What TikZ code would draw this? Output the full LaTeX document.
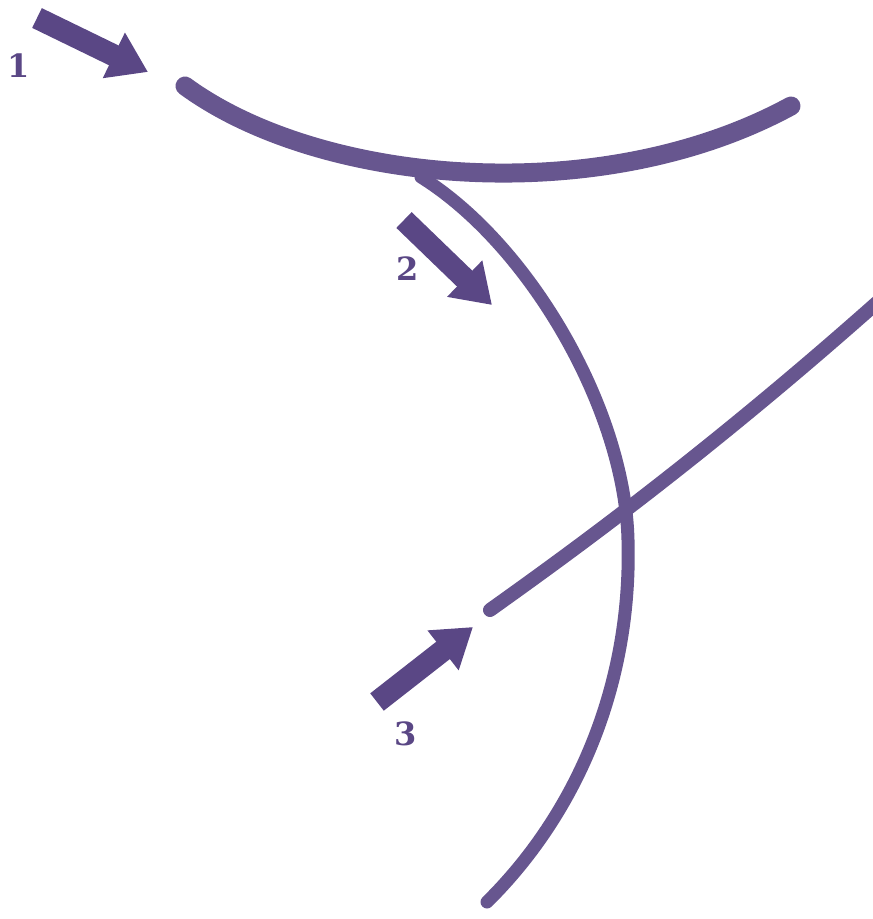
\documentclass[tikz,border=0pt]{standalone}
\usepackage{fontspec}
\newfontfamily\lblfont{DejaVu Serif}
\usetikzlibrary{arrows.meta}
\definecolor{stroke}{HTML}{67568F}
\definecolor{arrowc}{HTML}{5A4785}
\tikzset{
  pen/.style={draw=stroke, line cap=round, line join=round},
  fatarrow/.style={draw=arrowc, line width=22pt, -{Triangle[width=48pt,length=38pt]}},
  lbl/.style={text=arrowc, font=\lblfont\fontsize{32}{32}\selectfont\bfseries, inner sep=0pt}
}
\begin{document}
\begin{tikzpicture}[x=1pt,y=-1pt]
\useasboundingbox (0,0) rectangle (873,919);
% strokes
\coordinate (s1a) at (185,86);
\coordinate (s1b) at (791,106);
\coordinate (s2a) at (421,177);
\coordinate (s2m) at (628,540);
\coordinate (s2b) at (487,902);
\coordinate (s3a) at (490,610);
\coordinate (s3b) at (880,300);
\draw[pen, line width=13pt] (s2a) .. controls (530,245) and (625,410) .. (s2m) .. controls (632,680) and (580,810) .. (s2b);
\draw[pen, line width=19pt] (s1a) .. controls (320,185) and (600,210) .. (s1b);
\draw[pen, line width=14pt] (s3a) .. controls (560,560) and (700,460) .. (s3b);
% arrows
\coordinate (a1t) at (37,18);
\coordinate (a1h) at (148,72);
\coordinate (a2t) at (404,220);
\coordinate (a2h) at (492,305);
\coordinate (a3t) at (377,702);
\coordinate (a3h) at (473,627);
\draw[fatarrow] (a1t) -- (a1h);
\draw[fatarrow] (a2t) -- (a2h);
\draw[fatarrow] (a3t) -- (a3h);
% labels
\node[lbl] (l1) at (19,66) {1};
\node[lbl] (l2) at (408,269) {2};
\node[lbl] (l3) at (406,734) {3};
\end{tikzpicture}
\end{document}
